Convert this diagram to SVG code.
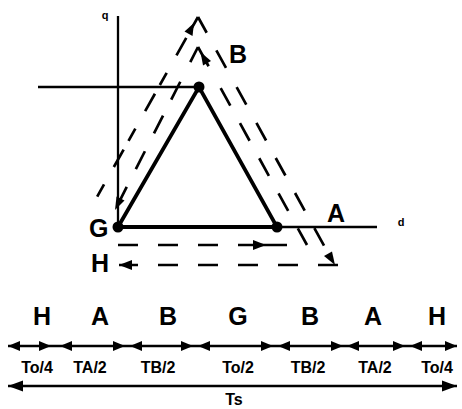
<svg xmlns="http://www.w3.org/2000/svg" xmlns:xlink="http://www.w3.org/1999/xlink" width="462" height="409" viewBox="0 0 462 409">
<style>
.ax{stroke:#000;stroke-width:2.3;fill:none}
.edge{stroke:#000;stroke-width:3.8;fill:none;stroke-linecap:round}
.dsh{stroke:#000;stroke-width:2.7;fill:none}
.ah{fill:#000;stroke:none}
.big{font-family:"Liberation Sans",Arial,sans-serif;font-weight:bold;font-size:25px;fill:#000}
.sm{font-family:"Liberation Sans",Arial,sans-serif;font-weight:bold;font-size:16px;fill:#000}
.tiny{font-family:"Liberation Sans",Arial,sans-serif;font-weight:bold;font-size:11px;fill:#000}
.tl{stroke:#000;stroke-width:2.3;fill:none}
</style>
<defs>
<path id="ar" d="M0,0 L-12,-5 L-12,5 Z"/>
<path id="al" d="M0,0 L12,-5 L12,5 Z"/>
<path id="arL" d="M0,0 L-15,-5.5 L-15,5.5 Z"/>
<path id="alL" d="M0,0 L15,-5.5 L15,5.5 Z"/>
</defs>
<rect width="462" height="409" fill="#fff"/>

<g id="axes">
<line class="ax" x1="118" y1="16" x2="118" y2="227"/>
<line class="ax" x1="38" y1="87" x2="199" y2="87"/>
<line class="ax" x1="277" y1="227" x2="377" y2="227"/>
<text class="tiny" x="105" y="19" text-anchor="middle">q</text>
<text class="tiny" x="401" y="226" text-anchor="middle">d</text>
</g>

<g id="connectors">
<!-- outer loop -->
<path class="dsh" d="M198,17 L97,197" stroke-dasharray="14 10 20 20"/>
<path class="dsh" d="M198,17 L327,251" stroke-dasharray="18 20 20 22 20 21 20 20 20 20 20 20 20 40"/>
<path class="dsh" d="M338,265 L119,265" stroke-dasharray="20 20"/>
<polygon class="ah" points="194,23 192.5,36 184.5,31.5"/>
<polygon class="ah" points="335,265 332,251.5 324,256"/>
<polygon class="ah" points="119,265 132,260 132,270"/>
<!-- inner loop -->
<path class="dsh" d="M198,47 L116,208" stroke-dasharray="17 22 20 18 20 20 20 20"/>
<path class="dsh" d="M198,47 L307,245" stroke-dasharray="22 25 20 20 20 20 20 20 20 20"/>
<path class="dsh" d="M118,245 L287,245" stroke-dasharray="20 20 20 20 20 20 49 100"/>
<polygon class="ah" points="200.5,52 211,61 203,65.5"/>
<polygon class="ah" points="115,210 124.5,200.5 116.5,196.5"/>
<polygon class="ah" points="266,245 253,240 253,250"/>
</g>

<g id="triangle">
<polyline class="edge" points="118,227 199,87 277,227 118,227"/>
</g>
<g id="G"><circle cx="118" cy="227" r="5.5"/><text class="big" x="89" y="237">G</text></g>
<g id="B"><circle cx="199" cy="87" r="5.5"/><text class="big" x="229" y="63">B</text></g>
<g id="A"><circle cx="277" cy="227" r="5.5"/><text class="big" x="327" y="222">A</text></g>
<g id="H"><text class="big" x="91" y="272">H</text></g>

<g id="sequence">
<text class="big" x="42" y="325" text-anchor="middle">H</text>
<text class="big" x="100" y="325" text-anchor="middle">A</text>
<text class="big" x="168" y="325" text-anchor="middle">B</text>
<text class="big" x="238" y="325" text-anchor="middle">G</text>
<text class="big" x="310" y="325" text-anchor="middle">B</text>
<text class="big" x="373" y="325" text-anchor="middle">A</text>
<text class="big" x="437" y="325" text-anchor="middle">H</text>
</g>

<g id="timeline">
<line class="tl" x1="8" y1="346" x2="457" y2="346"/>
<use xlink:href="#al" x="8" y="346"/>
<use xlink:href="#ar" x="51" y="346"/>
<use xlink:href="#al" x="60" y="346"/>
<use xlink:href="#ar" x="125" y="346"/>
<use xlink:href="#al" x="130" y="346"/>
<use xlink:href="#ar" x="193" y="346"/>
<use xlink:href="#al" x="198" y="346"/>
<use xlink:href="#ar" x="273" y="346"/>
<use xlink:href="#al" x="278" y="346"/>
<use xlink:href="#ar" x="343" y="346"/>
<use xlink:href="#al" x="347" y="346"/>
<use xlink:href="#ar" x="405" y="346"/>
<use xlink:href="#al" x="410" y="346"/>
<use xlink:href="#ar" x="457" y="346"/>
<text class="sm" x="37" y="373" text-anchor="middle">To/4</text>
<text class="sm" x="90" y="373" text-anchor="middle">TA/2</text>
<text class="sm" x="158" y="373" text-anchor="middle">TB/2</text>
<text class="sm" x="238" y="373" text-anchor="middle">To/2</text>
<text class="sm" x="308" y="373" text-anchor="middle">TB/2</text>
<text class="sm" x="375" y="373" text-anchor="middle">TA/2</text>
<text class="sm" x="437" y="373" text-anchor="middle">To/4</text>
</g>

<g id="total">
<line class="tl" x1="8" y1="386" x2="457" y2="386"/>
<use xlink:href="#alL" x="8" y="386"/>
<use xlink:href="#arL" x="457" y="386"/>
<text class="sm" x="234" y="405" text-anchor="middle">Ts</text>
</g>
</svg>
